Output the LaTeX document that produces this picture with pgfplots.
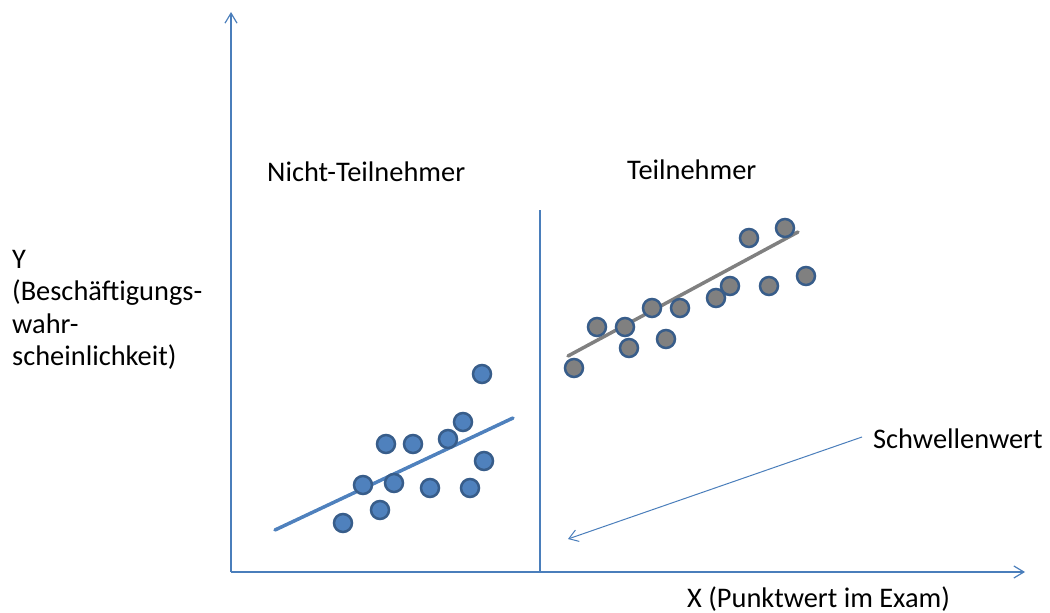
\documentclass[border=0pt]{standalone}
\usepackage{fontspec}
\setmainfont{Carlito}
\usepackage{pgfplots}
\pgfplotsset{compat=1.18}
\usetikzlibrary{arrows.meta}
\definecolor{axblue}{HTML}{4A7EBB}
\definecolor{ptblue}{HTML}{4F81BD}
\definecolor{ptedge}{HTML}{385D8A}
\definecolor{ptgray}{HTML}{808080}
\newcommand{\tf}{\fontsize{28.5}{33}\selectfont}
\begin{document}
\begin{tikzpicture}
\useasboundingbox (0,0) rectangle (1050bp,613bp);
\begin{axis}[
  at={(0,0)}, anchor=south west,
  scale only axis, x=1bp, y=1bp,
  xmin=0, xmax=1050, ymin=0, ymax=613,
  axis lines=none, clip=false,
]
% axes
\addplot[axblue, line width=1.2bp, -{Straight Barb[length=10bp,width=12bp]}] coordinates {(231,41) (231,601)};
\addplot[axblue, line width=1.2bp, -{Straight Barb[length=10bp,width=12bp]}] coordinates {(231,41) (1025,41)};
% threshold
\addplot[axblue, line width=1.2bp] coordinates {(540,41) (540,403)};
% arrow
\addplot[axblue, line width=1bp, -{Straight Barb[length=9bp,width=12bp]}] coordinates {(862,176) (568,74)};
% fit lines
\addplot[ptblue, line width=3.5bp, line cap=round] coordinates {(275,83) (513,195)};
\addplot[ptgray, line width=3.5bp, line cap=round] coordinates {(568,257) (798,381)};
% points
\addplot[only marks, mark=*, mark size=9bp, mark options={fill=ptblue, draw=ptedge, line width=2.5bp}] coordinates {
(482,239) (463,191) (386,169) (413,169) (448,174) (484,152) (363,128) (394,130) (430,125) (470,125) (380,103) (343,90)};
\addplot[only marks, mark=*, mark size=9bp, mark options={fill=ptgray, draw=ptedge, line width=2.5bp}] coordinates {
(749,375) (785,385) (806,337) (769,327) (730,327) (716,315) (652,305) (680,305) (597,286) (625,286) (629,265) (666,274) (574,245)};
% texts
\node[anchor=base west, inner sep=0pt, font=\tf] at (axis cs:267,431) {Nicht-Teilnehmer};
\node[anchor=base west, inner sep=0pt, font=\tf] at (axis cs:627,433) {Teilnehmer};
\node[anchor=base west, inner sep=0pt, font=\tf] at (axis cs:873,165) {Schwellenwert};
\node[anchor=base west, inner sep=0pt, font=\tf] at (axis cs:687,6) {X (Punktwert im Exam)};
\node[anchor=base west, inner sep=0pt, font=\tf] at (axis cs:12,345) {Y};
\node[anchor=base west, inner sep=0pt, font=\tf] at (axis cs:12,312.5) {(Beschäftigungs-};
\node[anchor=base west, inner sep=0pt, font=\tf] at (axis cs:12,280) {wahr-};
\node[anchor=base west, inner sep=0pt, font=\tf] at (axis cs:12,247.5) {scheinlichkeit)};
\end{axis}
\end{tikzpicture}
\end{document}
